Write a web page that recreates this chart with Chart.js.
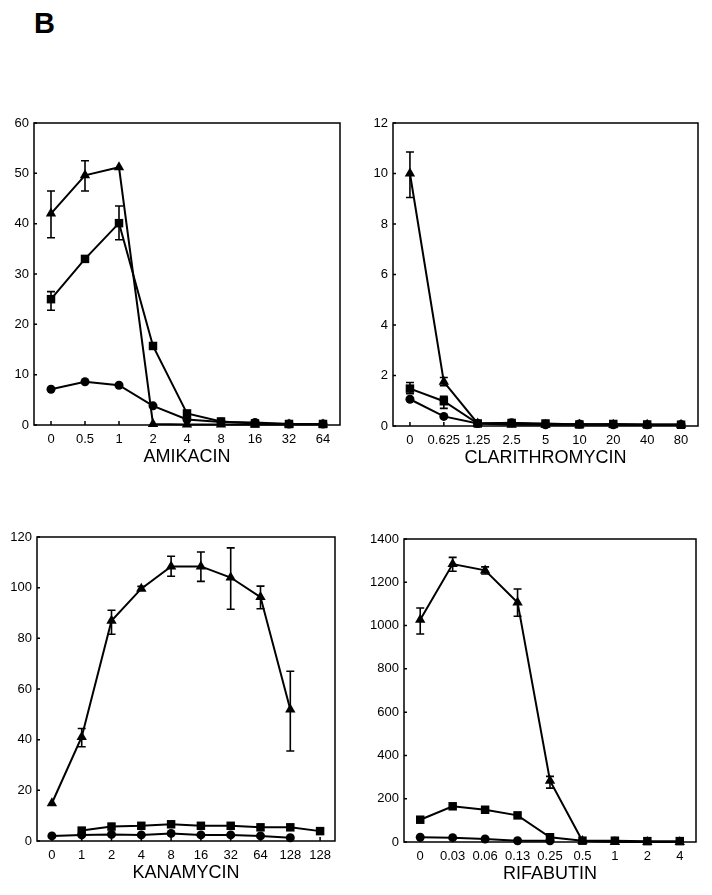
<!DOCTYPE html>
<html>
<head>
<meta charset="utf-8">
<script src="https://cdn.jsdelivr.net/npm/chart.js@4.4.1/dist/chart.umd.min.js"></script>
<style>
  body { margin: 0; background: #fff; width: 712px; height: 895px; position: relative; overflow: hidden; }
  .p { position: absolute; }
  #lab { position: absolute; left: 34px; top: 9px; font: bold 29px/29px "Liberation Sans", Arial, sans-serif; color: #000; }
</style>
</head>
<body>
<div id="lab">B</div>
<div class="p" style="left:0;top:113px;width:350px;height:355px"><canvas id="c1"></canvas></div>
<div class="p" style="left:350px;top:113px;width:362px;height:356px"><canvas id="c2"></canvas></div>
<div class="p" style="left:0;top:527px;width:350px;height:357px"><canvas id="c3"></canvas></div>
<div class="p" style="left:350px;top:529px;width:362px;height:356px"><canvas id="c4"></canvas></div>
<script>
// amikacin
const amikLabels = ['0', '0.5', '1', '2', '4', '8', '16', '32', '64'];
const amikTri = [42.0, 49.6, 51.2, 0.2, 0.1, 0.1, 0.1, 0.1, 0.1];
const amikTriHi = [46.5, 52.5, null, null, null, null, null, null, null];
const amikTriLo = [37.2, 46.5, null, null, null, null, null, null, null];
const amikSq = [25.0, 33.0, 40.1, 15.7, 2.3, 0.7, 0.3, 0.2, 0.2];
const amikSqHi = [26.5, 33.6, 43.5, null, null, null, null, null, null];
const amikSqLo = [22.8, 32.4, 36.8, null, null, null, null, null, null];
const amikCirc = [7.1, 8.6, 7.9, 3.8, 1.1, 0.6, 0.5, 0.2, 0.2];

// clarithromycin
const clarLabels = ['0', '0.625', '1.25', '2.5', '5', '10', '20', '40', '80'];
const clarTri = [10.0, 1.75, 0.1, 0.05, 0.05, 0.05, 0.05, 0.05, 0.05];
const clarTriHi = [10.85, 1.92, null, null, null, null, null, null, null];
const clarTriLo = [9.05, 1.6, null, null, null, null, null, null, null];
const clarSq = [1.48, 0.98, 0.1, 0.12, 0.1, 0.06, 0.08, 0.06, 0.05];
const clarSqHi = [1.72, 1.18, null, null, null, null, null, null, null];
const clarSqLo = [1.28, 0.7, null, null, null, null, null, null, null];
const clarCirc = [1.06, 0.38, 0.1, 0.13, 0.05, 0.08, 0.05, 0.05, 0.06];

// kanamycin
const kanaLabels = ['0', '1', '2', '4', '8', '16', '32', '64', '128', '128'];
const kanaTri = [14.9, 41.1, 86.9, 99.6, 108.4, 108.4, 104.0, 96.3, 51.9, null];
const kanaTriHi = [null, 44.4, 91.1, 100.5, 112.4, 114.1, 115.7, 100.6, 67.0, null];
const kanaTriLo = [null, 37.2, 81.6, 99.0, 104.5, 102.5, 91.5, 91.7, 35.5, null];
const kanaSq = [null, 4.1, 5.7, 6.0, 6.6, 6.0, 6.0, 5.4, 5.4, 3.9];
const kanaCirc = [2.0, 2.4, 2.6, 2.4, 3.0, 2.4, 2.4, 2.0, 1.3, null];

// rifabutin
const rifaLabels = ['0', '0.03', '0.06', '0.13', '0.25', '0.5', '1', '2', '4'];
const rifaTri = [1027, 1284, 1255, 1107, 283, 5, 0, 0, 0];
const rifaTriHi = [1081, 1315, 1271, 1169, 303, null, null, null, null];
const rifaTriLo = [961, 1251, 1238, 1043, 249, null, null, null, null];
const rifaSq = [103, 165, 149, 123, 22, 6, 6, 4, 4];
const rifaCirc = [22, 20, 14, 6, 6, null, null, null, null];

const FONT = '"Liberation Sans", Arial, sans-serif';

// frame round the plot area
const boxPlugin = {
  id: 'box',
  afterDraw(chart) {
    const a = chart.chartArea, ctx = chart.ctx;
    ctx.save();
    ctx.strokeStyle = '#000';
    ctx.lineWidth = 1.5;
    ctx.strokeRect(a.left, a.top, a.right - a.left, a.bottom - a.top);
    ctx.restore();
  }
};

// small tick marks pointing inward
const innerTicks = {
  id: 'innerTicks',
  afterDraw(chart) {
    const ctx = chart.ctx, a = chart.chartArea;
    const x = chart.scales.x, y = chart.scales.y;
    ctx.save();
    ctx.strokeStyle = '#000';
    ctx.lineWidth = 1.5;
    ctx.beginPath();
    x.ticks.forEach((t, i) => {
      const px = x.getPixelForTick(i);
      ctx.moveTo(px, a.bottom);
      ctx.lineTo(px, a.bottom - 4);
    });
    y.ticks.forEach((t, i) => {
      const py = y.getPixelForTick(i);
      ctx.moveTo(a.left, py);
      ctx.lineTo(a.left + 3, py);
    });
    ctx.stroke();
    ctx.restore();
  }
};

// error bars from errHi / errLo on each dataset
const errorBars = {
  id: 'errorBars',
  afterDatasetsDraw(chart) {
    const ctx = chart.ctx, y = chart.scales.y;
    ctx.save();
    ctx.strokeStyle = '#000';
    ctx.lineWidth = 1.6;
    chart.data.datasets.forEach((ds, di) => {
      if (!ds.errHi) return;
      const meta = chart.getDatasetMeta(di);
      ds.errHi.forEach((hi, j) => {
        const lo = ds.errLo[j];
        if (hi == null || lo == null) return;
        const px = meta.data[j].x;
        const top = y.getPixelForValue(hi), bot = y.getPixelForValue(lo);
        ctx.beginPath();
        ctx.moveTo(px, top); ctx.lineTo(px, bot);
        ctx.moveTo(px - 4, top); ctx.lineTo(px + 4, top);
        ctx.moveTo(px - 4, bot); ctx.lineTo(px + 4, bot);
        ctx.stroke();
      });
    });
    ctx.restore();
  }
};

function series(data, style, radius, hi, lo) {
  return {
    data: data,
    borderColor: '#000',
    backgroundColor: '#000',
    borderWidth: 2,
    pointStyle: style,
    pointRadius: radius,
    pointBorderWidth: 0,
    tension: 0,
    clip: false,
    errHi: hi,
    errLo: lo
  };
}

function makeChart(id, labels, sets, yMax, yStep, title, yWidth, padRight) {
  new Chart(document.getElementById(id), {
    type: 'line',
    data: { labels: labels, datasets: sets },
    options: {
      responsive: true,
      maintainAspectRatio: false,
      animation: false,
      layout: { padding: { top: 10, right: padRight, left: 0, bottom: 0 } },
      plugins: { legend: { display: false }, tooltip: { enabled: false } },
      scales: {
        x: {
          type: 'category',
          offset: true,
          grid: { display: false, drawTicks: false },
          border: { display: false },
          ticks: { color: '#000', font: { family: FONT, size: 13 }, padding: 7, maxRotation: 0, autoSkip: false },
          title: { display: true, text: title, color: '#000', font: { family: FONT, size: 18 }, padding: 0 },
          afterFit(s) { s.height = 43; s.paddingLeft = 0; s.paddingRight = 0; }
        },
        y: {
          min: 0,
          max: yMax,
          grid: { display: false, drawTicks: false },
          border: { display: false },
          ticks: { stepSize: yStep, color: '#000', font: { family: FONT, size: 13 }, padding: 5,
                   callback: v => String(v) },
          afterFit(s) { s.width = yWidth; s.paddingTop = 0; s.paddingBottom = 0; }
        }
      }
    },
    plugins: [boxPlugin, innerTicks, errorBars]
  });
}

makeChart('c1', amikLabels, [
  series(amikCirc, 'circle', 4.5),
  series(amikSq, 'rect', 6, amikSqHi, amikSqLo),
  series(amikTri, 'triangle', 6, amikTriHi, amikTriLo)
], 60, 10, 'AMIKACIN', 34, 10);

makeChart('c2', clarLabels, [
  series(clarCirc, 'circle', 4.5),
  series(clarSq, 'rect', 6, clarSqHi, clarSqLo),
  series(clarTri, 'triangle', 6, clarTriHi, clarTriLo)
], 12, 2, 'CLARITHROMYCIN', 43, 14);

makeChart('c3', kanaLabels, [
  series(kanaCirc, 'circle', 4.5),
  series(kanaSq, 'rect', 6),
  series(kanaTri, 'triangle', 6, kanaTriHi, kanaTriLo)
], 120, 20, 'KANAMYCIN', 37, 15);

makeChart('c4', rifaLabels, [
  series(rifaCirc, 'circle', 4.5),
  series(rifaSq, 'rect', 6),
  series(rifaTri, 'triangle', 6, rifaTriHi, rifaTriLo)
], 1400, 200, 'RIFABUTIN', 54, 16);
</script>
</body>
</html>
